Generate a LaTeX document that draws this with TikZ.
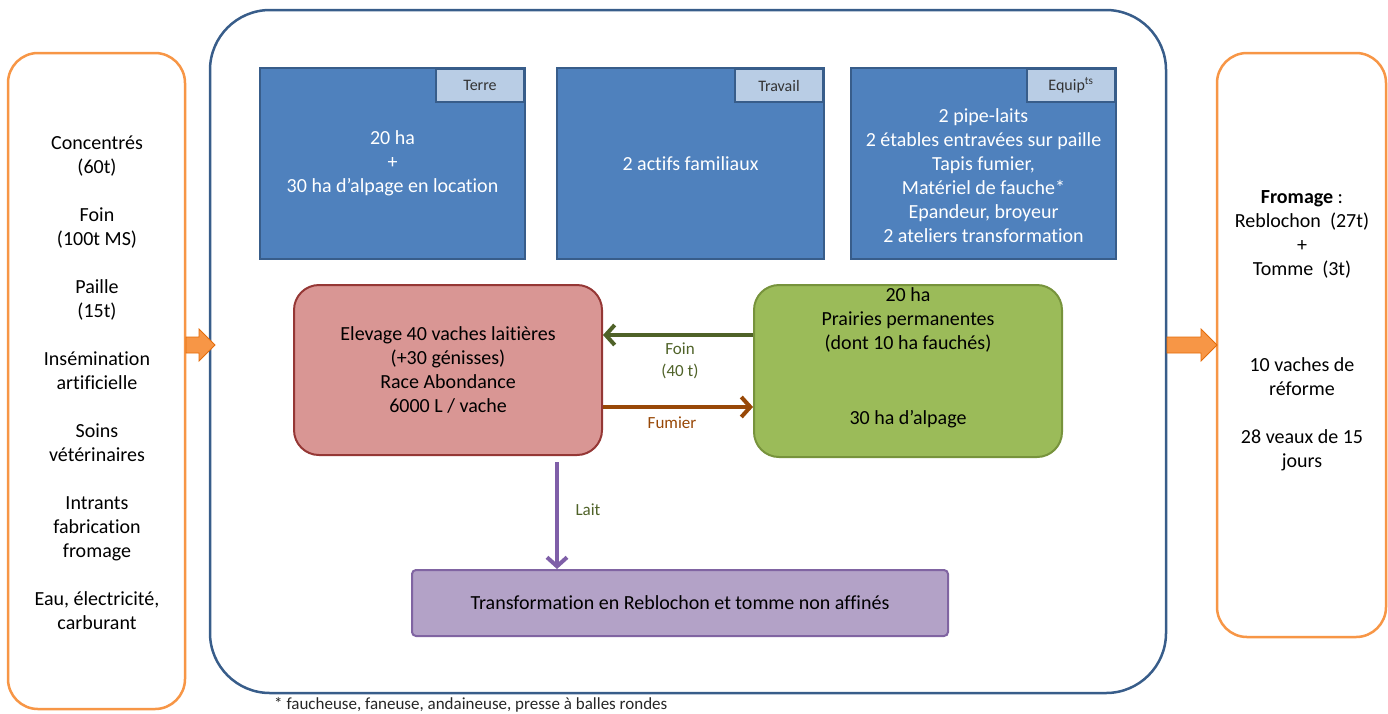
\documentclass[tikz,border=0pt]{standalone}
\usepackage{fontspec}
\setmainfont{Carlito}[Ligatures=NoCommon]
\usetikzlibrary{arrows.meta}
\definecolor{orng}{HTML}{F79646}
\definecolor{orngdark}{HTML}{E46C0A}
\definecolor{bluestroke}{HTML}{385D8A}
\definecolor{bluefill}{HTML}{4F81BD}
\definecolor{tagfill}{HTML}{B9CDE5}
\definecolor{redfill}{HTML}{D99694}
\definecolor{redstroke}{HTML}{953735}
\definecolor{greenfill}{HTML}{9BBB59}
\definecolor{greenstroke}{HTML}{77933C}
\definecolor{purpfill}{HTML}{B3A2C7}
\definecolor{purpstroke}{HTML}{8064A2}
\definecolor{foincol}{HTML}{4F6228}
\definecolor{fumiercol}{HTML}{984807}
\definecolor{laitcol}{HTML}{7F5FA8}
\begin{document}
\begin{tikzpicture}[x=1pt,y=-1pt,
  bigfont/.style={font=\fontsize{20}{24}\selectfont},
  sidebox/.style={draw=orng, line width=2.5pt, rounded corners=30pt, fill=white, inner sep=0pt},
  mainbox/.style={draw=bluestroke, line width=2.5pt, rounded corners=60pt, inner sep=0pt},
  resbox/.style={draw=bluestroke, line width=1.5pt, fill=bluefill, text=white, bigfont, align=center, inner sep=0pt},
  tagbox/.style={draw=bluestroke, line width=1.5pt, fill=tagfill, font=\fontsize{16}{18}\selectfont, text=black!80, minimum width=88pt, minimum height=33pt, inner sep=0pt, anchor=north east, xshift=-1pt, yshift=-1pt},
  redbox/.style={draw=redstroke, line width=2pt, fill=redfill, rounded corners=25pt, bigfont, align=center, inner sep=0pt},
  greenbox/.style={draw=greenstroke, line width=2pt, fill=greenfill, rounded corners=25pt, inner sep=0pt},
  purpbox/.style={draw=purpstroke, line width=2pt, fill=purpfill, rounded corners=4pt, bigfont, inner sep=0pt},
  flow/.style={line width=4pt, -{Straight Barb[length=9pt, width=20pt, line width=4pt]}},
  flowlabel/.style={font=\fontsize{17}{22}\selectfont, align=center},
  blockarrow/.style={fill=orng, draw=orngdark, line width=0.8pt}
]
\useasboundingbox (0,0) rectangle (1388,713);

% outer boxes
\node[sidebox, minimum width=177pt, minimum height=656pt] (inputs) at (96.5,381) {};
\node[sidebox, minimum width=169pt, minimum height=584pt] (outputs) at (1301.5,345) {};
\node[mainbox, minimum width=956pt, minimum height=683pt] (farm) at (688,351.5) {};

\node[bigfont, align=center] (inputstext) at (97,383)
  {Concentrés\\(60t)\\[24pt]Foin\\(100t MS)\\[24pt]Paille\\(15t)\\[24pt]Insémination\\artificielle\\[24pt]Soins\\vétérinaires\\[24pt]Intrants\\fabrication\\fromage\\[24pt]Eau, électricité,\\carburant};
\node[bigfont, align=center] (outputstext) at (1302,330.5)
  {\textbf{Fromage} :\\Reblochon\ \ (27t)\\+\\Tomme\ \ (3t)\\[72pt]10 vaches de\\réforme\\[24pt]28 veaux de 15\\jours};

% orange block arrows
\path[blockarrow] (186,337) -- (199,337) -- (199,329) -- (215,345) -- (199,361) -- (199,353) -- (186,353) -- cycle;
\path[blockarrow] (1167,337) -- (1201,337) -- (1201,329) -- (1217,345) -- (1201,361) -- (1201,353) -- (1167,353) -- cycle;

% resource boxes
\node[resbox, minimum width=265pt, minimum height=191pt] (terre) at (392.5,163.5)
  {20 ha\\+\\30 ha d’alpage en location};
\node[tagbox] (terretag) at (terre.north east) {Terre};
\node[resbox, minimum width=267pt, minimum height=191pt] (travail) at (690.5,163.5)
  {2 actifs familiaux};
\node[tagbox] (travailtag) at (travail.north east) {Travail};
\node[resbox, minimum width=265pt, minimum height=191pt] (equip) at (983.5,163.5) {};
\node[tagbox] (equiptag) at (equip.north east) {Equip\textsuperscript{ts}};
\node[bigfont, text=white, align=center] (equiptext) at (983.5,176)
  {2 pipe-laits\\2 étables entravées sur paille\\Tapis fumier,\\Matériel de fauche*\\Epandeur, broyeur\\2 ateliers transformation};

% production boxes
\node[redbox, minimum width=308pt, minimum height=170pt] (elevage) at (448,370)
  {Elevage 40 vaches laitières\\(+30 génisses)\\Race Abondance\\6000 L / vache};
\node[greenbox, minimum width=308pt, minimum height=172pt] (prairies) at (908,371) {};
\node[bigfont, align=center] (prairiestext) at (908,358)
  {20 ha\\Prairies permanentes\\(dont 10 ha fauchés)\\[51pt]30 ha d’alpage};
\node[purpbox, minimum width=536pt, minimum height=66pt] (transfo) at (680,603)
  {Transformation en Reblochon et tomme non affinés};

% flows
\draw[flow, foincol] ([yshift=36pt]prairies.west) -- ([yshift=35pt]elevage.east);
\node[flowlabel, text=foincol] (foinlabel) at (680,361) {Foin\\(40 t)};
\draw[flow, fumiercol] ([yshift=-37pt]elevage.east) -- ([yshift=-36pt]prairies.west);
\node[flowlabel, text=fumiercol] (fumierlabel) at (672,423) {Fumier};
\coordinate (laitstart) at (557,462);
\draw[flow, laitcol] (laitstart) -- (laitstart |- transfo.north);
\node[flowlabel, text=foincol] (laitlabel) at (588,510) {Lait};

% footnote
\node[anchor=base west, inner sep=0pt, font=\fontsize{17}{18}\selectfont, text=black!85] (note) at (274,709)
  {* faucheuse, faneuse, andaineuse, presse à balles rondes};
\end{tikzpicture}
\end{document}
